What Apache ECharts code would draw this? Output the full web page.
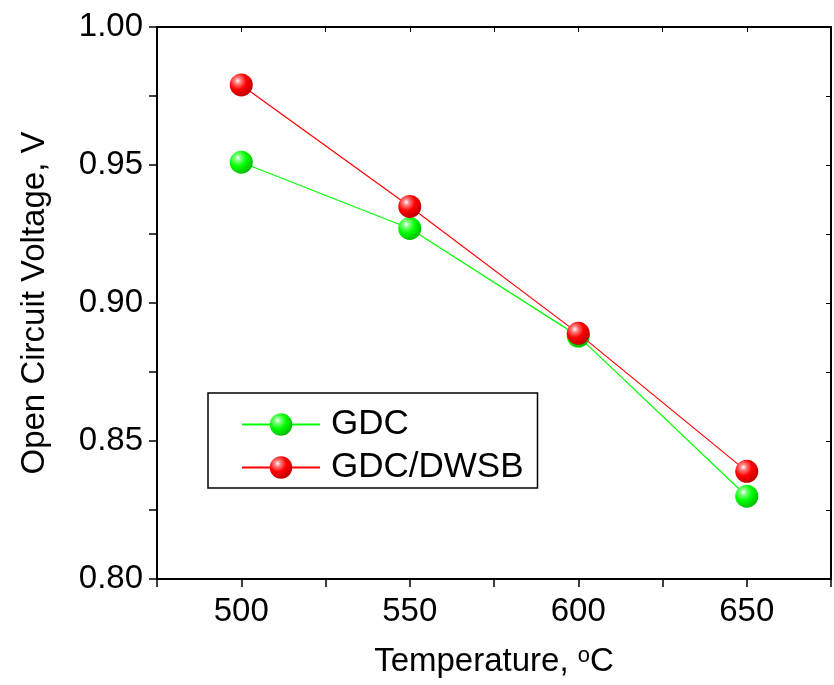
<!DOCTYPE html>
<html><head><meta charset="utf-8">
<script src="https://cdn.jsdelivr.net/npm/echarts@6/dist/echarts.min.js"></script>
<style>html,body{margin:0;padding:0;background:#fff}#c{width:834px;height:685px}</style>
</head><body><div id="c"></div>
<script>
var temperatures = [500, 550, 600, 650];
var gdc = [0.951, 0.927, 0.888, 0.830];
var gdcDwsb = [0.979, 0.935, 0.889, 0.839];
var seriesNames = ['GDC', 'GDC/DWSB'];
var xTickLabels = [500, 550, 600, 650];
var yTickLabels = ['0.80', '0.85', '0.90', '0.95', '1.00'];

var FONT = 'Liberation Sans, Arial, sans-serif';
function sphere(c, dark) {
  return {type: 'radial', x: 0.35, y: 0.32, r: 0.75,
    colorStops: [{offset: 0, color: '#ffffff'}, {offset: 0.18, color: c.light}, {offset: 0.5, color: c.base}, {offset: 1, color: dark}]};
}
var green = {light: '#7dff7d', base: '#00ff00'};
var red = {light: '#ff8080', base: '#ff0000'};
function pairs(vals) { return temperatures.map(function (t, i) { return [t, vals[i]]; }); }

var chart = echarts.init(document.getElementById('c'));
var axisLine = {show: true, lineStyle: {color: '#000', width: 2}};
chart.setOption({
  animation: false,
  grid: {left: 157, right: 2, top: 27, bottom: 106},
  legend: {
    orient: 'vertical', left: 208, top: 393,
    padding: [14, 14, 3, 33], itemGap: 8,
    borderColor: '#000', borderWidth: 1.5, borderRadius: 0,
    itemWidth: 78, itemHeight: 28,
    textStyle: {fontFamily: FONT, fontSize: 35, color: '#000', lineHeight: 31, padding: [0, 0, 0, 6]},
    data: seriesNames
  },
  xAxis: [{
    type: 'value', min: 475, max: 675, interval: 25, position: 'bottom',
    axisLine: axisLine,
    axisTick: {show: true, inside: false, length: 8, lineStyle: {color: '#000', width: 1.5}},
    splitLine: {show: false},
    axisLabel: {fontFamily: FONT, fontSize: 33, color: '#000', margin: 16,
      formatter: function (v) { return xTickLabels.indexOf(v) >= 0 ? String(v) : ''; }},
    name: '{a|Temperature, }{s|o}{a|C}', nameLocation: 'middle', nameGap: 66,
    nameTextStyle: {rich: {a: {fontFamily: FONT, fontSize: 33, color: '#000'},
      s: {fontFamily: FONT, fontSize: 22, color: '#000', verticalAlign: 'top', padding: [0, 0, 12, 0]}}}
  }, {
    type: 'value', min: 475, max: 675, interval: 25, position: 'top',
    axisLine: axisLine,
    axisTick: {show: true, inside: true, length: 5, lineStyle: {color: '#000', width: 1}},
    axisLabel: {show: false}, splitLine: {show: false}
  }],
  yAxis: [{
    type: 'value', min: 0.8, max: 1.0, interval: 0.025, position: 'left',
    axisLine: axisLine,
    axisTick: {show: true, inside: false, length: 8, lineStyle: {color: '#000', width: 1.5}},
    splitLine: {show: false},
    axisLabel: {fontFamily: FONT, fontSize: 33, color: '#000', margin: 14,
      formatter: function (v) { var s = v.toFixed(2); return (Math.round(v * 1000) % 50 === 0 && yTickLabels.indexOf(s) >= 0) ? s : ''; }},
    name: 'Open Circuit Voltage, V', nameLocation: 'middle', nameGap: 106,
    nameTextStyle: {fontFamily: FONT, fontSize: 33, color: '#000'}
  }, {
    type: 'value', min: 0.8, max: 1.0, interval: 0.025, position: 'right',
    axisLine: axisLine,
    axisTick: {show: true, inside: true, length: 5, lineStyle: {color: '#000', width: 1}},
    axisLabel: {show: false}, splitLine: {show: false}
  }],
  series: [{
    name: seriesNames[0], type: 'line', data: pairs(gdc),
    symbol: 'circle', symbolSize: 23,
    lineStyle: {color: '#00ff00', width: 1.2},
    itemStyle: {color: sphere(green, '#00b400'), borderWidth: 0}
  }, {
    name: seriesNames[1], type: 'line', data: pairs(gdcDwsb),
    symbol: 'circle', symbolSize: 23,
    lineStyle: {color: '#ff0000', width: 1.2},
    itemStyle: {color: sphere(red, '#b40000'), borderWidth: 0}
  }]
});
</script></body></html>
